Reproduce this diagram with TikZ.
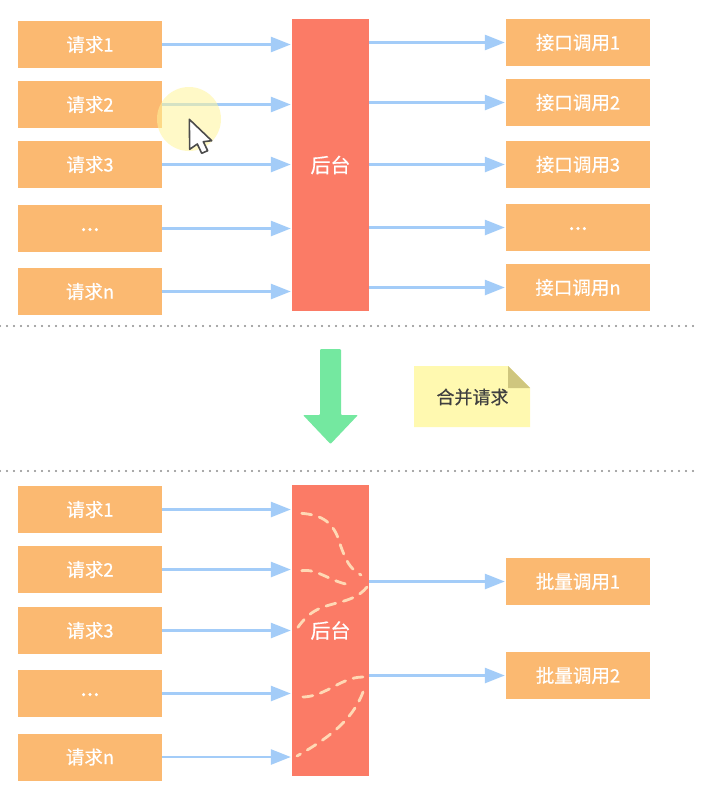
\documentclass[tikz,border=0pt]{standalone}
\usepackage{fontspec}
\newfontfamily\cjk{Noto Sans CJK SC}[FakeBold=0.6]
\usetikzlibrary{arrows.meta}
\definecolor{boxor}{HTML}{FBB971}
\definecolor{boxred}{HTML}{FB7B66}
\definecolor{arrblue}{HTML}{A3CCF8}
\definecolor{arrgreen}{HTML}{74E8A0}
\definecolor{noteyel}{HTML}{FFF9B0}
\definecolor{notefold}{HTML}{CFC67E}
\definecolor{dashc}{HTML}{FFD9B5}
\definecolor{cursory}{HTML}{FFF59A}
\tikzset{
  orbox/.style={fill=boxor,minimum width=144pt,minimum height=47pt,inner sep=0pt,text=white,font=\cjk\fontsize{18.5}{20}\selectfont},
  redbox/.style={fill=boxred,minimum width=77pt,inner sep=0pt,text=white,font=\cjk\fontsize{20}{22}\selectfont},
  conn/.style={draw=arrblue,line width=2.6pt,-{Triangle[length=20pt,width=15pt]},shorten >=1pt},
  dotline/.style={draw=black!45,line width=2.4pt,line cap=round,dash pattern=on 0pt off 7pt},
  dcurve/.style={draw=dashc,line width=2.8pt,line cap=round,dash pattern=on 10pt off 8pt},
}
\newcommand{\dotsraised}{\raisebox{-5pt}{\fontsize{23}{24}\selectfont ...}}
\begin{document}
\begin{tikzpicture}[x=1pt,y=-1pt]
\useasboundingbox (0,0) rectangle (703,806);
\fill[white] (0,0) rectangle (703,806);
% top left
\node[orbox] (a1) at (90,44.5) {请求1};
\node[orbox] (a2) at (90,104.5) {请求2};
\node[orbox] (a3) at (90,164.5) {请求3};
\node[orbox] (a4) at (90,228.5) {\dotsraised};
\node[orbox] (a5) at (90,291.5) {请求n};
\node[redbox,minimum height=292pt] (bk) at (330.5,165) {后台};
\node[orbox] (r1) at (578,42.5) {接口调用1};
\node[orbox] (r2) at (578,102.5) {接口调用2};
\node[orbox] (r3) at (578,164.5) {接口调用3};
\node[orbox] (r4) at (578,227.5) {\dotsraised};
\node[orbox] (r5) at (578,287.5) {接口调用n};
\foreach \n in {a1,a2,a3,a4,a5} \draw[conn] (\n.east) -- (bk.west |- \n.east);
\foreach \n in {r1,r2,r3,r4,r5} \draw[conn] (bk.east |- \n.west) -- (\n.west);
% separators
\coordinate (s1l) at (0,326); \coordinate (s1r) at (694,326);
\coordinate (s2l) at (0,471); \coordinate (s2r) at (694,471);
\draw[dotline] (s1l) -- (s1r);
\draw[dotline] (s2l) -- (s2r);
% big arrow
\fill[arrgreen,rounded corners=1pt] (320,349) -- (341,349) -- (341,415) -- (358,415) -- (330.5,444) -- (303,415) -- (320,415) -- cycle;
% note
\fill[noteyel] (414,366) -- (508,366) -- (530,388) -- (530,427) -- (414,427) -- cycle;
\fill[notefold] (508,366) -- (530,388) -- (508,388) -- cycle;
\node[inner sep=0pt,text=black!75,font=\cjk\fontsize{18}{20}\selectfont] (note) at (472.5,397) {合并请求};
% bottom
\node[orbox] (b1) at (90,509.5) {请求1};
\node[orbox] (b2) at (90,569.5) {请求2};
\node[orbox] (b3) at (90,630.5) {请求3};
\node[orbox] (b4) at (90,693.5) {\dotsraised};
\node[orbox] (b5) at (90,757) {请求n};
\node[redbox,minimum height=291pt] (bk2) at (330.5,630.5) {后台};
\node[orbox] (p1) at (578,581.5) {批量调用1};
\node[orbox] (p2) at (578,675.5) {批量调用2};
\foreach \n in {b1,b2,b3,b4,b5} \draw[conn] (\n.east) -- (bk2.west |- \n.east);
\foreach \n in {p1,p2} \draw[conn] (bk2.east |- \n.west) -- (\n.west);
% dashed curves
\draw[dcurve] (301.7,513.3) .. controls (322,515) and (334,522) .. (340,544) .. controls (346,561) and (350,569) .. (361,575);
\draw[dcurve] (301.7,570.7) .. controls (318,568) and (333,584) .. (353,585);
\draw[dcurve] (367,587) .. controls (352,606) and (325,600) .. (308,616) .. controls (302,621) and (298,627) .. (294,633);
\draw[dcurve] (363,677) .. controls (340,677) and (325,698) .. (300,697);
\draw[dcurve] (363,692) .. controls (352,722) and (325,740) .. (297,756);
% cursor
\fill[cursory,opacity=0.55] (189,119) circle (32);
\fill[white,draw=black!70,line width=1.6pt,line join=round] (189.3,119.3) -- (189.7,149.3) -- (197.3,144) -- (201.7,153.3) -- (207.7,150.7) -- (203.3,141.7) -- (211.7,140.7) -- cycle;
\end{tikzpicture}
\end{document}
